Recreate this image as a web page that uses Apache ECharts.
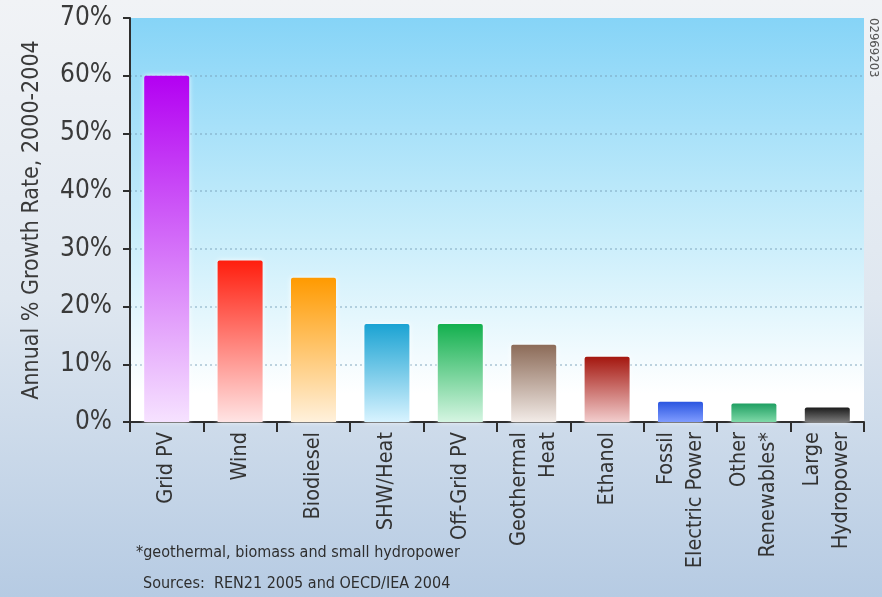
<!DOCTYPE html>
<html>
<head>
<meta charset="utf-8">
<script src="https://cdn.jsdelivr.net/npm/echarts@6/dist/echarts.min.js"></script>
<style>
html,body{margin:0;padding:0;}
#c{width:882px;height:597px;}
</style>
</head>
<body>
<div id="c"></div>
<script>
const categories = ['Grid PV','Wind','Biodiesel','SHW/Heat','Off-Grid PV','Geothermal\nHeat','Ethanol','Fossil\nElectric Power','Other\nRenewables*','Large\nHydropower'];
const growthRates = [60, 28, 25, 17, 17, 13.4, 11.3, 3.5, 3.2, 2.5];
const yTicks = [0, 10, 20, 30, 40, 50, 60, 70];
const footnotes = ['*geothermal, biomass and small hydropower', 'Sources:  REN21 2005 and OECD/IEA 2004'];
const barColors = [
  ['#b300f2', '#f6e2ff'],
  ['#ff1e0e', '#ffe4e4'],
  ['#ff9a00', '#fff1dc'],
  ['#1ba3d3', '#d8f3ff'],
  ['#13b04e', '#d5f5e2'],
  ['#8c6b58', '#f2ebe7'],
  ['#a4170f', '#f2cdcd'],
  ['#2a55e0', '#7f9cff'],
  ['#1f9f62', '#7fd9a8'],
  ['#1c1c1c', '#7a7a7a']
];

const chart = echarts.init(document.getElementById('c'));
const font = '"Liberation Sans Narrow","DejaVu Sans Condensed","Roboto",sans-serif';

const barData = growthRates.map((v, i) => ({
  value: v,
  itemStyle: {
    color: new echarts.graphic.LinearGradient(0, 0, 0, 1, [
      {offset: 0, color: barColors[i][0]},
      {offset: 1, color: barColors[i][1]}
    ])
  }
}));

chart.setOption({
  animation: false,
  backgroundColor: new echarts.graphic.LinearGradient(0, 0, 0, 1, [
    {offset: 0, color: '#f1f3f6'},
    {offset: 0.5, color: '#dfe7f0'},
    {offset: 1, color: '#b6cbe3'}
  ]),
  grid: {
    left: 130, right: 18, top: 18, bottom: 175,
    show: true,
    borderWidth: 0,
    backgroundColor: new echarts.graphic.LinearGradient(0, 0, 0, 1, [
      {offset: 0, color: '#86d4f7'},
      {offset: 0.55, color: '#caeefb'},
      {offset: 0.93, color: '#ffffff'},
      {offset: 1, color: '#ffffff'}
    ])
  },
  xAxis: {
    type: 'category',
    data: categories,
    axisLine: {lineStyle: {color: '#2e2e2e', width: 2}},
    axisTick: {show: true, length: 10, lineStyle: {color: '#2e2e2e', width: 2}},
    axisLabel: {
      rotate: 90, interval: 0, margin: 10,
      fontFamily: font, fontSize: 21.5, lineHeight: 29, color: '#333333'
    }
  },
  yAxis: {
    type: 'value',
    min: yTicks[0], max: yTicks[yTicks.length - 1], interval: 10,
    name: 'Annual % Growth Rate, 2000-2004',
    nameLocation: 'middle',
    nameGap: 86,
    nameTextStyle: {fontFamily: font, fontSize: 23, color: '#3a3a3a'},
    axisLine: {show: true, lineStyle: {color: '#2e2e2e', width: 2}},
    axisTick: {show: true, length: 7, lineStyle: {color: '#2e2e2e', width: 2}},
    axisLabel: {
      formatter: '{value}%', margin: 18,
      fontFamily: font, fontSize: 26, color: '#3a3a3a'
    },
    splitLine: {
      show: true, showMaxLine: false, showMinLine: false,
      lineStyle: {type: [2, 3], color: 'rgba(120,160,185,0.45)', width: 2}
    }
  },
  series: [{
    type: 'bar',
    data: barData,
    barWidth: 45,
    itemStyle: {
      borderRadius: [2, 2, 0, 0],
      shadowColor: 'rgba(255,255,255,0.9)',
      shadowBlur: 5
    }
  }],
  graphic: [
    {
      type: 'text', left: 136, top: 545,
      style: {text: footnotes[0], fontFamily: font, fontSize: 16, fill: '#2e2e2e'}
    },
    {
      type: 'text', left: 143, top: 576,
      style: {text: footnotes[1], fontFamily: font, fontSize: 16, fill: '#2e2e2e'}
    },
    {
      type: 'text', x: 880, y: 18, rotation: -Math.PI / 2,
      style: {text: '02969203', fontFamily: font, fontSize: 13, fill: '#555555', align: 'left', verticalAlign: 'top'}
    }
  ]
});
</script>
</body>
</html>
